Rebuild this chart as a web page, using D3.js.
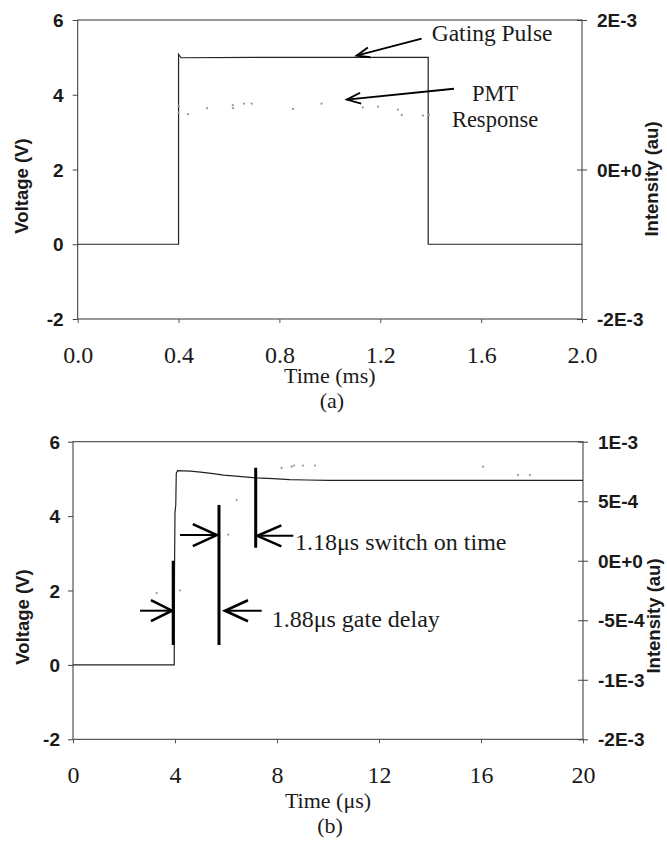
<!DOCTYPE html>
<html>
<head>
<meta charset="utf-8">
<script src="https://cdn.jsdelivr.net/npm/d3@7"></script>
<style>
  body { margin: 0; background: #fff; }
  svg { display: block; }
</style>
</head>
<body>
<script>
// ---------------- DATA ----------------
// Panel (a): time in ms, voltage in V, intensity in au
const gateA = [[0,0],[0.4,0],[0.4,5.08],[0.41,4.99],[0.8,5.0],[1.2,5.0],[1.39,5.0],[1.39,0],[2.0,0]];
const pmtA = [[0.4,8.5e-4],[0.4,7.6e-4],[0.437,7.4e-4],[0.513,8.2e-4],[0.615,8.6e-4],[0.616,8.2e-4],
  [0.66,8.8e-4],[0.69,8.8e-4],[0.854,8.1e-4],[0.967,8.8e-4],[1.131,8.3e-4],[1.191,8.4e-4],
  [1.27,8.0e-4],[1.285,7.3e-4],[1.369,7.2e-4],[1.393,7.3e-4]];
const xTicksA = [0,0.4,0.8,1.2,1.6,2.0];
const xTickLabelsA = ["0.0","0.4","0.8","1.2","1.6","2.0"];
const vTicks = [6,4,2,0,-2];
const vTickLabels = ["6","4","2","0","-2"];
const iTicksA = [2e-3,0,-2e-3];
const iTickLabelsA = ["2E-3","0E+0","-2E-3"];

// Panel (b): time in µs
const gateB = [[0,0],[3.97,0],[3.98,2.5],[4.0,4.1],[4.03,4.3],[4.05,5.15],[4.1,5.22],[4.6,5.21],
  [5.0,5.18],[5.5,5.14],[5.9,5.1],[6.5,5.07],[7.16,5.03],[7.85,5.01],[8.5,4.98],[9.16,4.97],
  [10,4.96],[12,4.96],[14,4.96],[16,4.96],[18,4.96],[20,4.96]];
const pmtB = [[8.18,7.8e-4],[8.58,7.9e-4],[8.67,8.0e-4],[9.02,8.0e-4],[9.49,8.0e-4],[6.42,5.1e-4],
  [6.09,2.2e-4],[3.93,-2.0e-4],[3.94,-2.6e-4],[4.2,-2.5e-4],[3.28,-2.7e-4],[17.45,7.2e-4],
  [17.92,7.2e-4],[16.08,7.9e-4]];
const xTicksB = [0,4,8,12,16,20];
const xTickLabelsB = ["0","4","8","12","16","20"];
const iTicksB = [1e-3,5e-4,0,-5e-4,-1e-3,-1.5e-3];
const iTickLabelsB = ["1E-3","5E-4","0E+0","-5E-4","-1E-3","-2E-3"];

// Annotation markers in panel (b) (time µs, voltage V from, voltage V to)
const markB = [[3.93,0.535,2.80],[5.725,0.535,4.30],[7.165,3.15,5.30]];

// ---------------- DRAW ----------------
const SANS = "'Liberation Sans', Arial, sans-serif";
const SERIF = "'Liberation Serif', 'Times New Roman', serif";
const INK = "#1a1a1a";

const svg = d3.select("body").append("svg").attr("width", 667).attr("height", 844);

function panel(o) {
  const x = d3.scaleLinear().domain(o.xDomain).range(o.xRange);
  const y = d3.scaleLinear().domain([-2, 6]).range(o.yRange);
  const yi = d3.scaleLinear().domain(o.iDomain).range(o.yRange);
  const g = svg.append("g");

  g.append("rect")
    .attr("x", o.xRange[0]).attr("y", o.yRange[1])
    .attr("width", o.xRange[1] - o.xRange[0]).attr("height", o.yRange[0] - o.yRange[1])
    .attr("fill", "none").attr("stroke", "#333").attr("stroke-width", 1);

  const ax = g.append("g").attr("transform", `translate(0,${o.yRange[0]})`)
    .call(d3.axisBottom(x).tickValues(o.xTicks).tickSize(4).tickSizeOuter(0)
      .tickFormat((d, i) => o.xLabels[i]));
  ax.select(".domain").remove();
  ax.selectAll("line").attr("stroke", "#555");
  ax.selectAll("text").attr("y", 44).attr("dy", null)
    .attr("font-family", SERIF).attr("font-size", 24).attr("fill", INK);

  const al = g.append("g").attr("transform", `translate(${o.xRange[0]},0)`)
    .call(d3.axisLeft(y).tickValues(vTicks).tickSize(5).tickPadding(o.lPad).tickSizeOuter(0)
      .tickFormat((d, i) => vTickLabels[i]));
  al.select(".domain").remove();
  al.selectAll("line").attr("stroke", "#444");
  al.selectAll("text").attr("font-family", SANS).attr("font-weight", "bold")
    .attr("font-size", 19).attr("fill", INK).attr("dy", "0.35em");

  const ar = g.append("g").attr("transform", `translate(${o.xRange[1]},0)`)
    .call(d3.axisRight(yi).tickValues(o.iTicks).tickSize(5).tickPadding(10).tickSizeOuter(0)
      .tickFormat((d, i) => o.iLabels[i]));
  ar.select(".domain").remove();
  ar.selectAll("line").attr("x1", -5).attr("stroke", "#444");
  ar.selectAll("text").attr("font-family", SANS).attr("font-weight", "bold")
    .attr("font-size", 19).attr("fill", INK).attr("dy", "0.35em");

  g.append("path").datum(o.gate)
    .attr("d", d3.line().x(d => x(d[0])).y(d => y(d[1])))
    .attr("fill", "none").attr("stroke", "#222").attr("stroke-width", 1.2);

  g.selectAll("circle.pmt").data(o.pmt).join("circle")
    .attr("cx", d => x(d[0])).attr("cy", d => yi(d[1])).attr("r", 1.1)
    .attr("fill", "#999");

  g.append("text").attr("transform", `translate(${o.lLabel[0]},${o.lLabel[1]}) rotate(-90)`)
    .attr("text-anchor", "middle").attr("dominant-baseline", "central")
    .attr("font-family", SANS).attr("font-weight", "bold").attr("font-size", 18.5).attr("fill", INK)
    .text("Voltage (V)");
  g.append("text").attr("transform", `translate(${o.rLabel[0]},${o.rLabel[1]}) rotate(-90)`)
    .attr("text-anchor", "middle").attr("dominant-baseline", "central")
    .attr("font-family", SANS).attr("font-weight", "bold").attr("font-size", 18.5).attr("fill", INK)
    .text("Intensity (au)");
  const cx = (o.xRange[0] + o.xRange[1]) / 2;
  g.append("text").attr("x", cx).attr("y", o.yRange[0] + o.tOff[0]).attr("text-anchor", "middle")
    .attr("font-family", SERIF).attr("font-size", 22).attr("fill", INK).text(o.xTitle);
  g.append("text").attr("x", cx + 2).attr("y", o.yRange[0] + o.tOff[1]).attr("text-anchor", "middle")
    .attr("font-family", SERIF).attr("font-size", 22).attr("fill", INK).text(o.sub);

  return { g, x, y };
}

function arrow(g, x1, y1, x2, y2, len, half, w1, w2) {
  const a = Math.atan2(y2 - y1, x2 - x1);
  g.append("line").attr("x1", x1).attr("y1", y1).attr("x2", x2).attr("y2", y2)
    .attr("stroke", "#000").attr("stroke-width", w1);
  const bx = x2 - len * Math.cos(a), by = y2 - len * Math.sin(a);
  const px = -Math.sin(a) * half, py = Math.cos(a) * half;
  g.append("path").attr("d", `M${bx + px},${by + py}L${x2},${y2}L${bx - px},${by - py}`)
    .attr("fill", "none").attr("stroke", "#000").attr("stroke-width", w2)
    .attr("stroke-linejoin", "miter");
}

// Panel (a)
const A = panel({
  xDomain: [0, 2], xRange: [77.7, 582], yRange: [319, 20],
  iDomain: [-2e-3, 2e-3], xTicks: xTicksA, xLabels: xTickLabelsA,
  iTicks: iTicksA, iLabels: iTickLabelsA, gate: gateA, pmt: pmtA, lPad: 9,
  lLabel: [21.5, 186], rLabel: [651.5, 179], xTitle: "Time (ms)", sub: "(a)", tOff: [64, 89]
});
arrow(A.g, A.x(1.364), A.y(5.5), A.x(1.106), A.y(5.045), 13, 5, 1.8, 1.8);
arrow(A.g, A.x(1.492), A.y(4.16), A.x(1.067), A.y(3.87), 14, 5.5, 1.8, 1.8);
A.g.append("text").attr("x", A.x(1.404)).attr("y", A.y(5.44))
  .attr("font-family", SERIF).attr("font-size", 23.5).attr("fill", INK).text("Gating Pulse");
A.g.append("text").attr("x", A.x(1.655)).attr("y", A.y(3.83)).attr("text-anchor", "middle")
  .attr("font-family", SERIF).attr("font-size", 22.5).attr("fill", INK).text("PMT");
A.g.append("text").attr("x", A.x(1.655)).attr("y", A.y(3.137)).attr("text-anchor", "middle")
  .attr("font-family", SERIF).attr("font-size", 22.5).attr("fill", INK).text("Response");

// Panel (b)
const B = panel({
  xDomain: [0, 20], xRange: [73, 583], yRange: [739.3, 441.7],
  iDomain: [-1.5e-3, 1e-3], xTicks: xTicksB, xLabels: xTickLabelsB,
  iTicks: iTicksB, iLabels: iTickLabelsB, gate: gateB, pmt: pmtB, lPad: 8,
  lLabel: [22.5, 617], rLabel: [653, 616], xTitle: "Time (\u03bcs)", sub: "(b)", tOff: [69, 94]
});
B.g.selectAll("line.mark").data(markB).join("line").attr("class", "mark")
  .attr("x1", d => B.x(d[0])).attr("x2", d => B.x(d[0]))
  .attr("y1", d => B.y(d[1])).attr("y2", d => B.y(d[2]))
  .attr("stroke", "#000").attr("stroke-width", 3);
arrow(B.g, B.x(2.63), B.y(1.457), B.x(3.88), B.y(1.457), 21, 10.5, 2, 2.6);
arrow(B.g, B.x(7.40), B.y(1.457), B.x(5.96), B.y(1.457), 23, 10.5, 2, 2.6);
arrow(B.g, B.x(4.196), B.y(3.49), B.x(5.64), B.y(3.49), 24, 11, 2, 2.6);
arrow(B.g, B.x(8.64), B.y(3.47), B.x(7.23), B.y(3.47), 24, 10.5, 2, 2.6);
B.g.append("text").attr("x", B.x(8.706)).attr("y", B.y(3.089))
  .attr("font-family", SERIF).attr("font-size", 24).attr("fill", INK).text("1.18\u03bcs switch on time");
B.g.append("text").attr("x", B.x(7.79)).attr("y", B.y(1.027))
  .attr("font-family", SERIF).attr("font-size", 24).attr("fill", INK).text("1.88\u03bcs gate delay");
</script>
</body>
</html>
